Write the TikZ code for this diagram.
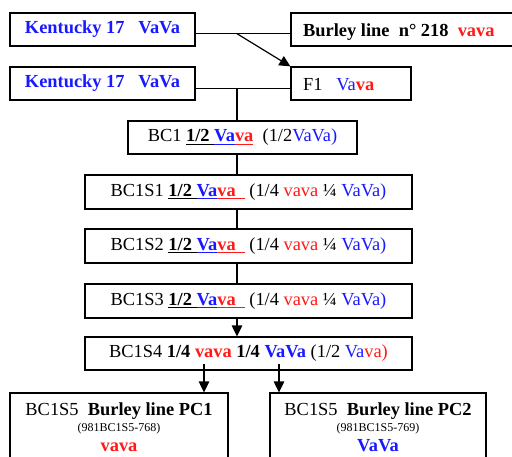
\documentclass[tikz,border=0pt]{standalone}
\usepackage{fontspec}
\setmainfont{Liberation Serif}
\usetikzlibrary{arrows.meta,calc}
\definecolor{vblue}{RGB}{25,25,255}
\definecolor{vred}{RGB}{255,25,25}
\newsavebox\ulbx
\newcommand\uln[1]{\sbox\ulbx{#1}\rlap{\usebox\ulbx}\rule[-2.8pt]{\wd\ulbx}{0.9pt}}
\tikzset{
  box/.style={draw, line width=1.2pt, inner sep=0pt},
  txt/.style={inner sep=0pt, anchor=base},
  conn/.style={line width=1.2pt},
  arr/.style={line width=1.2pt, -{Triangle[length=11pt,width=10.5pt]}},
  every node/.style={font=\fontsize{18.4}{21}\selectfont},
  small/.style={font=\fontsize{12}{14}\selectfont}
}
\begin{document}
\begin{tikzpicture}[x=1pt,y=-1pt]
\useasboundingbox (0,0) rectangle (512,456);
% boxes
\node[box, minimum width=185pt, minimum height=33pt] (k1) at (102.5,29.5) {\textbf{\color{vblue}Kentucky 17\ \ \ VaVa}};
\node[box, minimum width=235pt, minimum height=33pt] (bur) at (408.5,29.5) {};
\node[txt, anchor=base west] (burt) at (303,36) {\textbf{Burley line\ \ n° 218\ \ {\color{vred}vava}}};
\node[box, minimum width=185pt, minimum height=33pt] (k2) at (102.5,83.5) {\textbf{\color{vblue}Kentucky 17\ \ \ VaVa}};
\node[box, minimum width=120pt, minimum height=33pt] (f1) at (351,83.5) {};
\node[txt, anchor=base west] (f1t) at (303,90.5) {F1\ \ \ {\color{vblue}Va}{\color{vred}\textbf{va}}};
\node[box, minimum width=229pt, minimum height=33pt] (bc1) at (242.5,137.5)
  {BC1 \textbf{\uln{1/2\ }{\color{vblue}\uln{Va}}{\color{vred}\uln{va}}}\ \ (1/2{\color{vblue}VaVa)}};
\node[box, minimum width=327pt, minimum height=34pt] (s1) at (248.5,192)
  {BC1S1 \textbf{\uln{1/2\ }{\color{vblue}\uln{Va}}{\color{vred}\uln{va\hspace{9pt}}}}\ (1/4 {\color{vred}vava} ¼ {\color{vblue}VaVa)}};
\node[box, minimum width=327pt, minimum height=34pt] (s2) at (248.5,246)
  {BC1S2 \textbf{\uln{1/2\ }{\color{vblue}\uln{Va}}{\color{vred}\uln{va\hspace{9pt}}}}\ (1/4 {\color{vred}vava} ¼ {\color{vblue}VaVa)}};
\node[box, minimum width=327pt, minimum height=34pt] (s3) at (248.5,301)
  {BC1S3 \textbf{\uln{1/2\ }{\color{vblue}\uln{Va}}{\color{vred}\uln{va\hspace{9pt}}}}\ (1/4 {\color{vred}vava} ¼ {\color{vblue}VaVa)}};
\node[box, minimum width=327pt, minimum height=33pt] (s4) at (248.5,353.5)
  {BC1S4 \textbf{1/4 {\color{vred}vava} 1/4 {\color{vblue}VaVa}} (1/2 {\color{vblue}Va}{\color{vred}va)}};
\node[box, minimum width=218pt, minimum height=82pt] (p1) at (119,434) {};
\node[box, minimum width=216pt, minimum height=82pt] (p2) at (378,434) {};
\node[txt] (p1a) at (119,415) {BC1S5\ \ \textbf{Burley line PC1}};
\node[txt, small] (p1b) at (119,431) {(981BC1S5-768)};
\node[txt] (p1c) at (119,451) {\textbf{\color{vred}vava}};
\node[txt] (p2a) at (378,415) {BC1S5\ \ \textbf{Burley line PC2}};
\node[txt, small] (p2b) at (378,431) {(981BC1S5-769)};
\node[txt] (p2c) at (378,451) {\textbf{\color{vblue}VaVa}};
% connectors
\coordinate (j1) at (237,33.7);
\coordinate (j2) at (237,88.3);
\draw[conn] (k1.east |- j1) -- (bur.west |- j1);
\draw[arr] (j1) -- (f1.north west);
\draw[conn] (k2.east |- j2) -- (f1.west |- j2);
\draw[conn] (j2) -- (bc1.north -| j2);
\draw[conn] (bc1.south -| j2) -- (s1.north -| j2);
\draw[conn] (s1.south -| j2) -- (s2.north -| j2);
\draw[conn] (s2.south -| j2) -- (s3.north -| j2);
\draw[arr] (s3.south -| j2) -- (s4.north -| j2);
\coordinate (a1) at (204,364);
\coordinate (a2) at (279,364);
\draw[arr] (a1) -- (p1.north -| a1);
\draw[arr] (a2) -- (p2.north -| a2);
\end{tikzpicture}
\end{document}
